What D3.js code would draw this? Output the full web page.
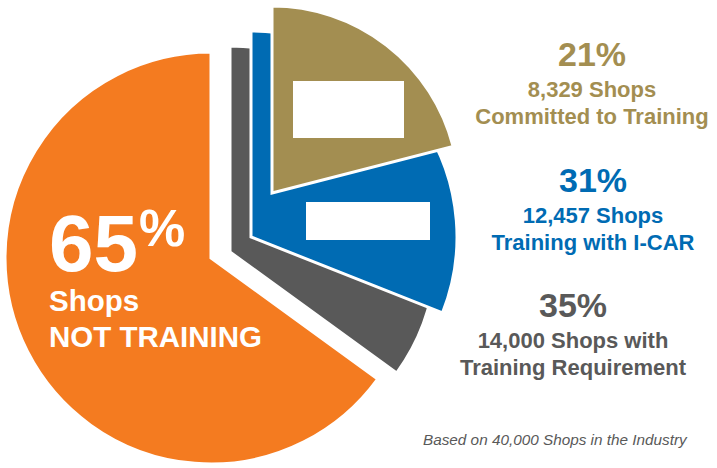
<!DOCTYPE html>
<html>
<head>
<meta charset="utf-8">
<script src="https://cdn.jsdelivr.net/npm/d3@7"></script>
<style>
  body { margin: 0; background: #fff; }
  svg { display: block; font-family: "Liberation Sans", Arial, sans-serif; }
</style>
</head>
<body>
<svg></svg>
<script>
// data
const categories = ["NOT TRAINING", "Training Requirement", "Training with I-CAR", "Committed to Training"];
const percents = [65, 35, 31, 21];
const shopCounts = [null, 14000, 12457, 8329];
const labelLines = [
  null,
  ["14,000 Shops with", "Training Requirement"],
  ["12,457 Shops", "Training with I-CAR"],
  ["8,329 Shops", "Committed to Training"]
];
const footnote = "Based on 40,000 Shops in the Industry";

// layout / style
const width = 717, height = 468;
const cx = 211, cy = 258;
const colors = ["#F47B20", "#595959", "#006BB3", "#A38E51"];
const radii = [206, 206, 206, 187];
const explode = [[0, 0], [19, -6], [40, -21], [61, -65]];
const labelPos = [null, [573, 317], [593, 192], [592, 66]];

const svg = d3.select("svg")
  .attr("width", width)
  .attr("height", height);

const angle = d3.scaleLinear().domain([0, 100]).range([0, 2 * Math.PI]);

// orange takes the rest of the circle, the others are nested from 12 o'clock
const slices = categories.map((c, i) => ({
  name: c,
  pct: percents[i],
  startAngle: i === 0 ? angle(100 - percents[0]) : 0,
  endAngle: i === 0 ? angle(100) : angle(percents[i]),
  r: radii[i],
  color: colors[i],
  dx: explode[i][0],
  dy: explode[i][1]
}));

const arc = d3.arc().innerRadius(0).outerRadius(d => d.r);

svg.append("g")
  .selectAll("path")
  .data(slices)
  .join("path")
  .attr("transform", d => `translate(${cx + d.dx},${cy + d.dy})`)
  .attr("d", arc)
  .attr("fill", d => d.color)
  .attr("stroke", "#fff")
  .attr("stroke-width", 3)
  .attr("stroke-linejoin", "miter");

// white boxes sitting over the tan and blue slices
const boxes = [
  { i: 3, x: 21, y: -112, w: 111, h: 57 },
  { i: 2, x: 55, y: -35, w: 124, h: 38 }
];
svg.append("g")
  .selectAll("rect")
  .data(boxes)
  .join("rect")
  .attr("x", d => cx + explode[d.i][0] + d.x)
  .attr("y", d => cy + explode[d.i][1] + d.y)
  .attr("width", d => d.w)
  .attr("height", d => d.h)
  .attr("fill", "#fff");

// big label in the orange slice
const big = svg.append("text")
  .attr("x", 49)
  .attr("y", 271)
  .attr("fill", "#fff")
  .style("font-weight", "bold");
big.append("tspan")
  .style("font-size", "80px")
  .text(percents[0]);
big.append("tspan")
  .attr("dx", 1)
  .attr("dy", -25)
  .style("font-size", "52px")
  .text("%");

svg.append("text")
  .attr("x", 49)
  .attr("y", 311)
  .attr("fill", "#fff")
  .style("font-weight", "bold")
  .style("font-size", "29.5px")
  .text("Shops");

svg.append("text")
  .attr("x", 49)
  .attr("y", 347)
  .attr("fill", "#fff")
  .style("font-weight", "bold")
  .style("font-size", "29.5px")
  .text(categories[0]);

// right-hand labels
slices.forEach((d, i) => {
  if (!labelPos[i]) return;
  const [lx, ly] = labelPos[i];
  const g = svg.append("g")
    .attr("fill", d.color)
    .attr("text-anchor", "middle")
    .style("font-weight", "bold");
  g.append("text")
    .attr("x", lx)
    .attr("y", ly)
    .style("font-size", "34px")
    .text(d.pct + "%");
  labelLines[i].forEach((line, j) => {
    g.append("text")
      .attr("x", lx)
      .attr("y", ly + 31 + j * 27)
      .style("font-size", "22px")
      .text(line);
  });
});

svg.append("text")
  .attr("x", 423)
  .attr("y", 445)
  .attr("fill", "#595959")
  .style("font-style", "italic")
  .style("font-size", "15.3px")
  .text(footnote);
</script>
</body>
</html>
